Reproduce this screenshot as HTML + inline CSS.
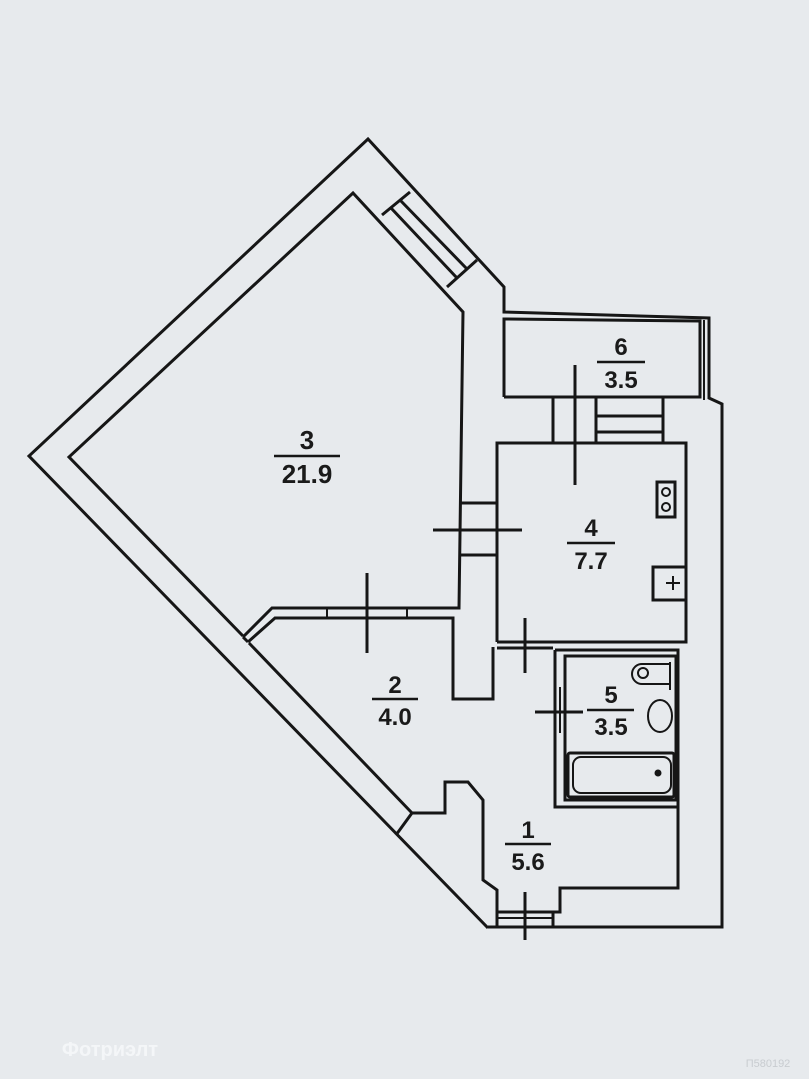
<!DOCTYPE html>
<html><head><meta charset="utf-8"><style>
html,body{margin:0;padding:0;background:#e7eaed;}
svg{display:block}
text{font-family:"Liberation Sans",Arial,sans-serif;font-weight:bold;fill:#1a1a1a;text-anchor:middle}
</style></head><body>
<svg width="809" height="1079" viewBox="0 0 809 1079" xmlns="http://www.w3.org/2000/svg">
<rect width="809" height="1079" fill="#e7eaed"/>
<g fill="none" stroke="#161616" stroke-width="3" stroke-linejoin="miter">
<polyline points="488,928 29,456 368,139 504,287 504,312 709,318 709,398 722,404 722,927 488,927"/>
<polyline points="504,397 504,319 700,321 700,397 504,397"/>
<line x1="704" y1="320" x2="704" y2="400" stroke-width="2"/>
<polyline points="243,636 69,457 353,193 463,312 459,608 272,608 243,637"/>
<polyline points="248,642 275,618 453,618 453,699 493,699 493,647"/>
<line x1="243" y1="637" x2="248" y2="642"/>
<line x1="249" y1="643" x2="412" y2="813"/>
<line x1="327" y1="608" x2="327" y2="618" stroke-width="2"/>
<line x1="407" y1="608" x2="407" y2="618" stroke-width="2"/>
<line x1="410" y1="192" x2="382" y2="215"/>
<line x1="477" y1="260" x2="447" y2="287"/>
<line x1="391" y1="208" x2="457" y2="278"/>
<line x1="400" y1="200" x2="467" y2="269"/>
<line x1="553" y1="397" x2="553" y2="443"/>
<line x1="596" y1="397" x2="596" y2="443"/>
<line x1="663" y1="397" x2="663" y2="443"/>
<line x1="596" y1="416" x2="663" y2="416"/>
<line x1="596" y1="432" x2="663" y2="432"/>
<line x1="575" y1="365" x2="575" y2="485"/>
<polyline points="497,642 497,443 686,443 686,642 497,642"/>
<line x1="459" y1="503" x2="497" y2="503"/>
<line x1="459" y1="555" x2="497" y2="555"/>
<line x1="433" y1="530" x2="522" y2="530"/>
<rect x="657" y="482" width="18" height="35"/>
<circle cx="666" cy="492" r="4" stroke-width="2"/>
<circle cx="666" cy="507" r="4" stroke-width="2"/>
<polyline points="686,567 653,567 653,600 686,600"/>
<line x1="666" y1="583" x2="680" y2="583" stroke-width="2"/>
<line x1="673" y1="576" x2="673" y2="590" stroke-width="2"/>
<line x1="367" y1="573" x2="367" y2="653"/>
<line x1="497" y1="648" x2="553" y2="648"/>
<line x1="525" y1="618" x2="525" y2="673"/>
<polyline points="555,650 555,807 678,807 678,650 555,650"/>
<rect x="565" y="656" width="111" height="144"/>
<line x1="560" y1="687" x2="560" y2="733" stroke-width="2"/>
<line x1="535" y1="712" x2="583" y2="712"/>
<rect x="568" y="753" width="106" height="44" rx="2"/>
<rect x="573" y="757" width="98" height="36" rx="8" stroke-width="2"/>
<circle cx="658" cy="773" r="2" fill="#161616"/>
<path d="M670,664 H642 A10,10 0 0 0 642,684 H670" stroke-width="2"/>
<circle cx="643" cy="673" r="5" stroke-width="2"/>
<line x1="670" y1="662" x2="670" y2="690" stroke-width="2"/>
<ellipse cx="660" cy="716" rx="12" ry="16" stroke-width="2"/>
<polyline points="678,807 678,888 560,888 560,912 497,912 497,890 483,880 483,800 468,782 445,782 445,813 412,813 396,835"/>
<line x1="497" y1="912" x2="497" y2="927"/>
<line x1="553" y1="912" x2="553" y2="927"/>
<line x1="497" y1="918" x2="553" y2="918" stroke-width="2"/>
<line x1="525" y1="892" x2="525" y2="940"/>
</g>
<g stroke="#161616" stroke-width="2.5">
<line x1="274" y1="456" x2="340" y2="456"/>
<line x1="597" y1="362" x2="645" y2="362"/>
<line x1="567" y1="543" x2="615" y2="543"/>
<line x1="372" y1="699" x2="418" y2="699"/>
<line x1="587" y1="710" x2="634" y2="710"/>
<line x1="505" y1="844" x2="551" y2="844"/>
</g>
<text x="307" y="449" font-size="26">3</text>
<text x="307" y="483" font-size="26">21.9</text>
<text x="621" y="355" font-size="24">6</text>
<text x="621" y="388" font-size="24">3.5</text>
<text x="591" y="536" font-size="24">4</text>
<text x="591" y="569" font-size="24">7.7</text>
<text x="395" y="693" font-size="24">2</text>
<text x="395" y="725" font-size="24">4.0</text>
<text x="611" y="703" font-size="24">5</text>
<text x="611" y="735" font-size="24">3.5</text>
<text x="528" y="838" font-size="24">1</text>
<text x="528" y="870" font-size="24">5.6</text>
<text x="110" y="1056" font-size="20" style="fill:#f4f6f8">Фотриэлт</text>
<text x="768" y="1067" font-size="11" style="fill:#c8ccd0;font-weight:normal">П580192</text>
</svg>
</body></html>
